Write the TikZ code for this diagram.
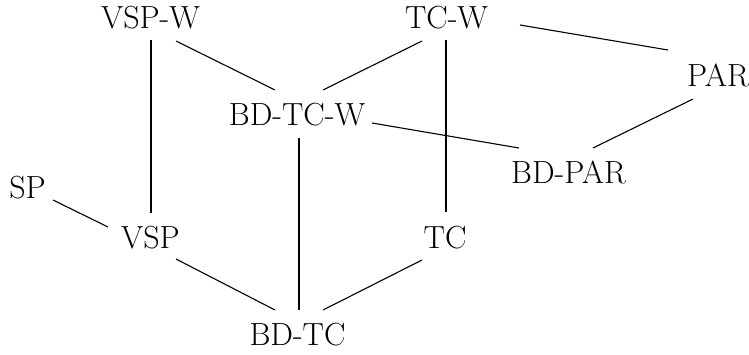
\documentclass[tikz,border=0pt]{standalone}
\begin{document}
\begin{tikzpicture}[x=1pt, y=-1pt,
  lbl/.style={anchor=base, inner sep=0pt, font=\fontsize{32}{38}\selectfont},
  edge/.style={line width=1.1pt},
  spine/.style={line width=2.7pt}]
\useasboundingbox (0,0) rectangle (749,354);

% lattice elements, placed by centre x and baseline
\node[lbl] (vspw)  at (150.5,28)  {VSP-W};
\node[lbl] (tcw)   at (446.5,28)  {TC-W};
\node[lbl] (par)   at (718,86)    {PAR};
\node[lbl] (bdtcw) at (297,125)   {BD-TC-W};
\node[lbl] (bdpar) at (568.5,183) {BD-PAR};
\node[lbl] (sp)    at (27.5,198)  {SP};
\node[lbl] (vsp)   at (150.5,248.5) {VSP};
\node[lbl] (tc)    at (445,248.5) {TC};
\node[lbl] (bdtc)  at (297.5,345) {BD-TC};

% thin order relations
\draw[edge] ([shift={(25.5,13)}]vspw.base)  -- ([shift={(-22,-35)}]bdtcw.base);
\draw[edge] ([shift={(-24.5,13)}]tcw.base)  -- ([shift={(26,-35)}]bdtcw.base);
\draw[edge] ([shift={(73.5,-3)}]tcw.base)   -- ([shift={(-50,-36)}]par.base);
\draw[edge] ([shift={(75,-2)}]bdtcw.base)   -- ([shift={(-49.5,-35)}]bdpar.base);
\draw[edge] ([shift={(-25,13)}]par.base)    -- ([shift={(24.5,-35)}]bdpar.base);
\draw[edge] ([shift={(25.5,2)}]sp.base)     -- ([shift={(-42.5,-21.5)}]vsp.base);
\draw[edge] ([shift={(25.5,10.5)}]vsp.base) -- ([shift={(-22.5,-35)}]bdtc.base);
\draw[edge] ([shift={(-23,11.5)}]tc.base)   -- ([shift={(25.5,-35)}]bdtc.base);

% thick vertical relations
\draw[spine] ([shift={(0.5,12)}]vspw.base)  -- ([shift={(0.5,-35.5)}]vsp.base);
\draw[spine] ([shift={(-0.5,12)}]tcw.base)  -- ([shift={(1,-36.5)}]tc.base);
\draw[spine] ([shift={(2,13)}]bdtcw.base)   -- ([shift={(1.5,-35)}]bdtc.base);
\end{tikzpicture}
\end{document}
